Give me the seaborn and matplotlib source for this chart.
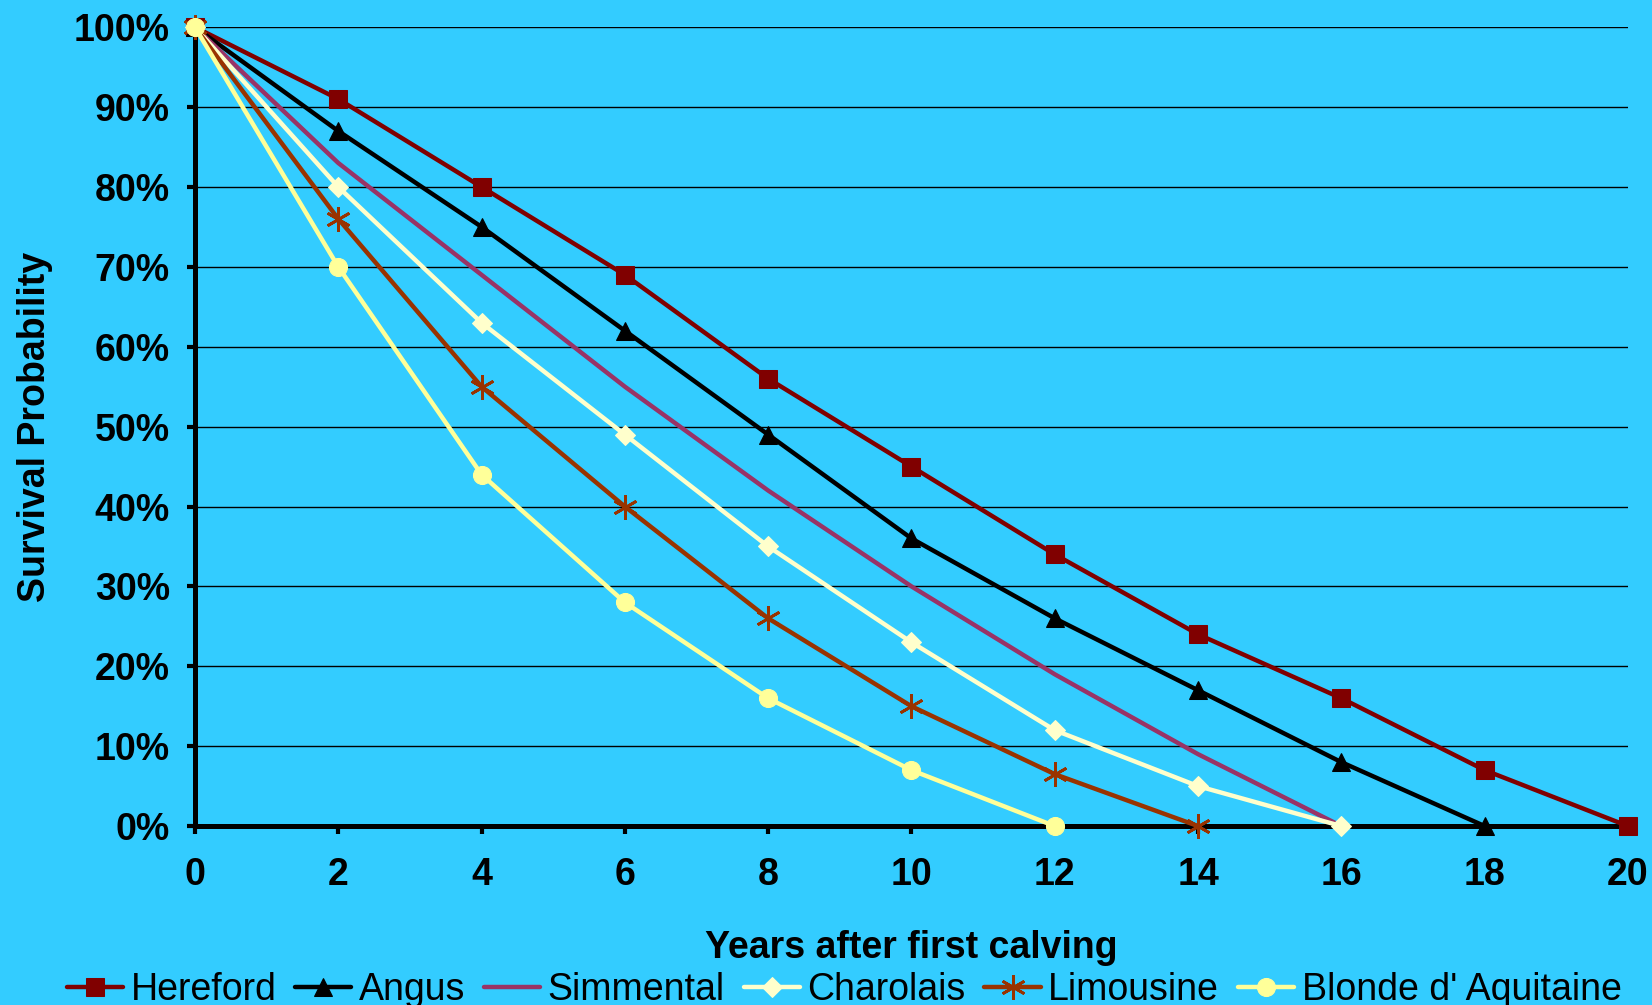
import pandas as pd
import matplotlib.pyplot as plt
import seaborn as sns
from matplotlib.ticker import PercentFormatter

years = [0, 2, 4, 6, 8, 10, 12, 14, 16, 18, 20]

hereford = [100, 91, 80, 69, 56, 45, 34, 24, 16, 7, 0]
angus = [100, 87, 75, 62, 49, 36, 26, 17, 8, 0]
simmental = [100, 83, 69, 55, 42, 30, 19, 9, 0]
charolais = [100, 80, 63, 49, 35, 23, 12, 5, 0]
limousine = [100, 76, 55, 40, 26, 15, 6.5, 0]
blonde = [100, 70, 44, 28, 16, 7, 0]

breeds = ['Hereford', 'Angus', 'Simmental', 'Charolais', 'Limousine', "Blonde d' Aquitaine"]
values = [hereford, angus, simmental, charolais, limousine, blonde]

colors = ['#800000', '#000000', '#993366', '#FFFFCC', '#993300', '#FFFF99']
markers = ['s', '^', None, 'D', (6, 2, 0), 'o']
msizes = [13, 13, 0, 10, 18, 13]

sns.set_style('white')
plt.rcParams['font.family'] = ['Liberation Sans', 'DejaVu Sans']
plt.rcParams['text.color'] = 'black'
plt.rcParams['axes.labelcolor'] = 'black'
plt.rcParams['xtick.color'] = 'black'
plt.rcParams['ytick.color'] = 'black'

fig = plt.figure(figsize=(16.52, 10.05), dpi=100, facecolor='#33CCFF')
ax = fig.add_axes([0.118, 0.178, 0.8675, 0.795])
ax.set_facecolor('#33CCFF')

for name, vals, c, m, ms in zip(breeds, values, colors, markers, msizes):
    df = pd.DataFrame({'year': years[:len(vals)], 'surv': [v / 100 for v in vals]})
    kw = dict(marker=m, markersize=ms, markerfacecolor=c, markeredgecolor=c)
    if m == (6, 2, 0):
        kw['markeredgewidth'] = 2.0
    if m is None:
        kw = {}
    sns.lineplot(data=df, x='year', y='surv', ax=ax, color=c, linewidth=3.2,
                 label=name, clip_on=False, zorder=3, **kw)

ax.set_xlim(0, 20)
ax.set_ylim(0, 1)
ax.set_xticks(years)
ax.set_yticks([i / 10 for i in range(11)])
ax.yaxis.set_major_formatter(PercentFormatter(1.0, decimals=0))
ax.grid(axis='y', color='black', linewidth=1.0)
ax.grid(axis='x', visible=False)

for s in ['top', 'right']:
    ax.spines[s].set_visible(False)
for s in ['left', 'bottom']:
    ax.spines[s].set_linewidth(3.6)
    ax.spines[s].set_color('black')
    ax.spines[s].set_zorder(2.5)

ax.tick_params(axis='both', direction='out', length=6, width=3, color='black',
               labelcolor='black', labelsize=27, left=True, bottom=True)
ax.tick_params(axis='x', pad=16)
ax.tick_params(axis='y', pad=12)
for lab in ax.get_xticklabels() + ax.get_yticklabels():
    lab.set_fontweight('bold')

ax.set_xlabel('Years after first calving', fontsize=27, fontweight='bold', color='black')
ax.set_ylabel('Survival Probability', fontsize=27, fontweight='bold', color='black')
ax.xaxis.set_label_coords(0.5, -0.13)
ax.yaxis.set_label_coords(-0.099, 0.5)

ax.legend(loc='center', bbox_to_anchor=(0.453, -0.205), ncol=6, frameon=False,
          fontsize=27, handlelength=1.5, handletextpad=0.2, columnspacing=0.5,
          borderaxespad=0, labelcolor='black')

fig.savefig('out.png', dpi=100, facecolor='#33CCFF')
